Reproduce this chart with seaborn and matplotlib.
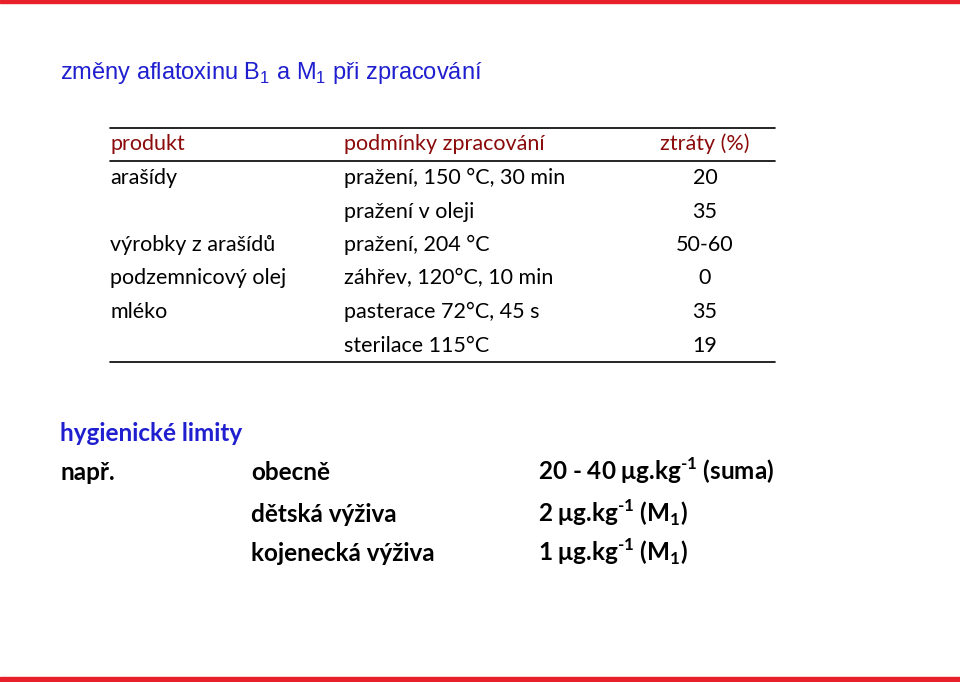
import matplotlib
matplotlib.use("Agg")
import matplotlib.pyplot as plt
import seaborn as sns

sns.set_theme(style="white")
plt.rcParams["font.family"] = ["Lato", "DejaVu Sans"]
plt.rcParams["text.color"] = "black"
plt.rcParams["mathtext.fontset"] = "custom"
plt.rcParams["mathtext.rm"] = "Liberation Sans"
plt.rcParams["mathtext.bf"] = "Lato:bold"

BLUE = "#1f1fd0"
DARKRED = "#8b0a0a"
RED = "#e8202a"

title = r"změny aflatoxinu B$_\mathrm{1}$ a M$_\mathrm{1}$ při zpracování"
header = ["produkt", "podmínky zpracování", "ztráty (%)"]
products = ["arašídy", "", "výrobky z arašídů", "podzemnicový olej", "mléko", ""]
conditions = ["pražení, 150 °C, 30 min", "pražení v oleji", "pražení, 204 °C",
              "záhřev, 120°C, 10 min", "pasterace 72°C, 45 s", "sterilace 115°C"]
losses = ["20", "35", "50-60", "0", "35", "19"]

limit_title = "hygienické limity"
limit_groups = ["obecně", "dětská výživa", "kojenecká výživa"]
limit_values = [r"20 - 40 μg.kg$^{\mathbf{‐1}}$ (suma)",
                r"2 μg.kg$^{\mathbf{‐1}}$ (M$_{\mathbf{1}}$)",
                r"1 μg.kg$^{\mathbf{‐1}}$ (M$_{\mathbf{1}}$)"]

fig = plt.figure(figsize=(9.6, 6.82), dpi=100)
ax = fig.add_axes([0, 0, 1, 1])
ax.set_xlim(0, 960)
ax.set_ylim(682, 0)
ax.axis("off")

# red bars top and bottom
ax.axhspan(0, 3, color=RED)
ax.axhspan(677, 682, color=RED)

ax.text(60, 79, title, color=BLUE, fontsize=17, family="Liberation Sans",
        va="baseline")

# table
BODY = 15.5
for y in [128, 161, 362]:
    ax.plot([110, 775], [y, y], color="black", lw=1.2)
ax.text(110, 150, header[0], color=DARKRED, fontsize=BODY, va="baseline")
ax.text(344, 150, header[1], color=DARKRED, fontsize=BODY, va="baseline")
ax.text(749, 150, header[2], color=DARKRED, fontsize=BODY, va="baseline", ha="right")

row_y = [184, 218, 251, 284, 318, 352]
for y, p, c, v in zip(row_y, products, conditions, losses):
    ax.text(110, y, p, fontsize=BODY, color="black", va="baseline")
    ax.text(344, y, c, fontsize=BODY, color="black", va="baseline")
    ax.text(705, y, v, fontsize=BODY, color="black", va="baseline", ha="center")

# hygienic limits
BIG = 17.5
ax.text(60, 441, limit_title, color=BLUE, fontsize=BIG, fontweight="bold", va="baseline")
ax.text(60, 480, "např.", fontsize=BIG, fontweight="bold", va="baseline", color="black")
for y, g, v in zip([480, 522, 561], limit_groups, limit_values):
    ax.text(251, y, g, fontsize=BIG, fontweight="bold", va="baseline", color="black")
    ax.text(538, y, v, fontsize=BIG, fontweight="bold", va="baseline", color="black")

fig.savefig("out.png", dpi=100)
